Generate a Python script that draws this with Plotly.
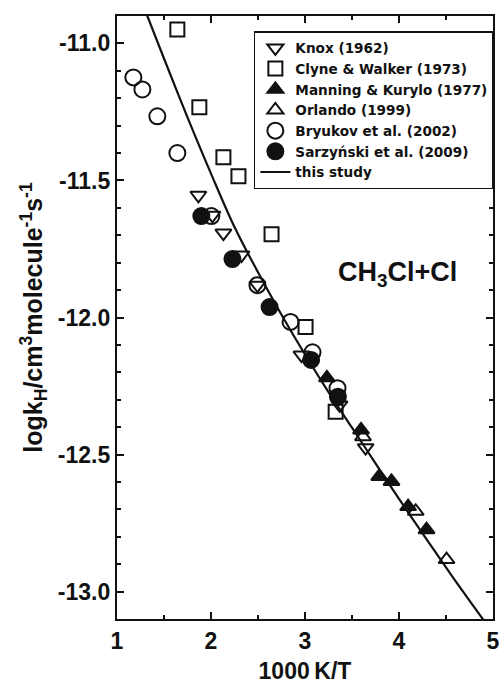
import plotly.graph_objects as go

# ---- data ----
knox_x = [1.866, 2.015, 2.132, 2.324, 2.494, 2.963, 3.368, 3.645]
knox_y = [-11.554, -11.627, -11.692, -11.772, -11.882, -12.137, -12.319, -12.475]

clyne_x = [1.642, 1.876, 2.132, 2.292, 2.644, 3.006, 3.326]
clyne_y = [-10.949, -11.233, -11.415, -11.485, -11.696, -12.035, -12.344]

manning_x = [3.233, 3.596, 3.79, 3.92, 4.097, 4.293]
manning_y = [-12.22, -12.41, -12.58, -12.598, -12.69, -12.774]

orlando_x = [3.617, 4.178, 4.506]
orlando_y = [-12.435, -12.707, -12.883]

bryukov_x = [1.174, 1.27, 1.429, 1.642, 2.004, 2.494, 2.846, 3.08, 3.346]
bryukov_y = [-11.124, -11.168, -11.266, -11.40, -11.630, -11.882, -12.016, -12.127, -12.258]

sarz_x = [1.897, 2.228, 2.623, 3.065, 3.35]
sarz_y = [-11.63, -11.787, -11.962, -12.155, -12.289]

fit_x = [1.3, 1.5, 1.75, 2.0, 2.25, 2.5, 2.75, 3.0, 3.25, 3.5, 3.75, 4.0, 4.25, 4.5, 4.75, 4.9]
fit_y = [-10.88, -11.055, -11.27, -11.475, -11.67, -11.835, -11.99, -12.135, -12.272,
         -12.402, -12.532, -12.662, -12.788, -12.912, -13.033, -13.104]

x_ticks = [1, 2, 3, 4, 5]
x_ticktext = ["1", "2", "3", "4", "5"]
y_ticks = [-11.0, -11.5, -12.0, -12.5, -13.0]
y_ticktext = ["-11.0", "-11.5", "-12.0", "-12.5", "-13.0"]

FONT = "Liberation Sans, Arial, Helvetica, sans-serif"
LEGEND_FONT = "DejaVu Sans, Liberation Sans, Arial, sans-serif"
BLACK = "#111111"

fig = go.Figure()

def add_pts(x, y, name, symbol, size):
    fig.add_trace(go.Scatter(
        x=x, y=y, mode="markers", name=name,
        marker=dict(symbol=symbol, size=size, color=BLACK,
                    line=dict(color=BLACK, width=2)),
    ))

add_pts(knox_x, knox_y, "Knox (1962)", "triangle-down-open", 14)
add_pts(clyne_x, clyne_y, "Clyne & Walker (1973)", "square-open", 14)
add_pts(manning_x, manning_y, "Manning & Kurylo (1977)", "triangle-up", 14)
add_pts(orlando_x, orlando_y, "Orlando (1999)", "triangle-up-open", 14)
add_pts(bryukov_x, bryukov_y, "Bryukov et al. (2002)", "circle-open", 16)
add_pts(sarz_x, sarz_y, "Sarzyński et al. (2009)", "circle", 16)

fig.add_trace(go.Scatter(
    x=fit_x, y=fit_y, mode="lines", name="this study",
    line=dict(color=BLACK, width=2.2, shape="spline"),
))

fig.add_annotation(
    x=0.745, y=0.572, xref="paper", yref="paper",
    xanchor="center", yanchor="middle",
    text="CH<sub>3</sub>Cl+Cl", showarrow=False,
    font=dict(family=FONT, size=27, color=BLACK, weight="bold"),
)

axis_common = dict(
    showline=True, linewidth=2.4, linecolor=BLACK, mirror="ticks",
    ticks="inside", ticklen=7, tickwidth=2, tickcolor=BLACK,
    showgrid=False, zeroline=False, automargin=False,
    ticklabeloverflow="allow",
    tickfont=dict(family=FONT, size=23, color=BLACK, weight="bold"),
)

fig.update_layout(
    width=499, height=684,
    margin=dict(l=117, r=6, t=16, b=65, autoexpand=False),
    paper_bgcolor="white", plot_bgcolor="white",
    font=dict(family=FONT, color=BLACK),
    showlegend=True,
    legend=dict(
        x=0.364, y=0.975, xanchor="left", yanchor="top",
        bordercolor=BLACK, borderwidth=1.5, bgcolor="white",
        font=dict(family=LEGEND_FONT, size=13.6, color=BLACK, weight="bold"),
        tracegroupgap=0, itemwidth=30,
    ),
    xaxis=dict(
        range=[1, 5], tickvals=x_ticks, ticktext=x_ticktext,
        minor=dict(dtick=0.5, ticks="inside", ticklen=4, tickwidth=1.5, tickcolor=BLACK),
        title=dict(text="1000\u2009K/T", standoff=20,
                   font=dict(family=FONT, size=23, color=BLACK, weight="bold")),
        **axis_common,
    ),
    yaxis=dict(
        range=[-13.1, -10.9], tickvals=y_ticks, ticktext=y_ticktext,
        minor=dict(dtick=0.1, ticks="inside", ticklen=4, tickwidth=1.5, tickcolor=BLACK),
        title=dict(text="logk<sub>H</sub>/cm<sup>3</sup>molecule<sup>-1</sup>s<sup>-1</sup>",
                   standoff=8,
                   font=dict(family=FONT, size=25, color=BLACK, weight="bold")),
        **axis_common,
    ),
)

fig.write_html("out.html")
